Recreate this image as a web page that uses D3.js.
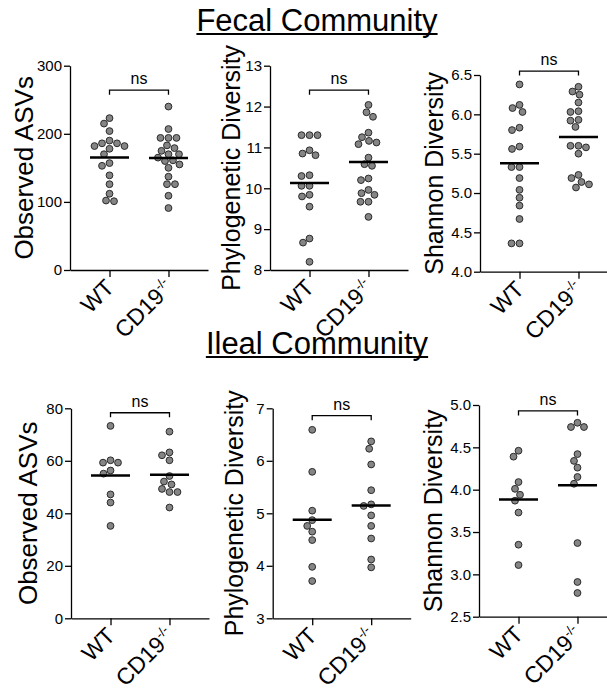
<!DOCTYPE html>
<html>
<head>
<meta charset="utf-8">
<script src="https://cdn.jsdelivr.net/npm/d3@7"></script>
<style>
  body { margin: 0; background: #fff; }
  svg { display: block; font-family: Arial, "Liberation Sans", sans-serif; }
  .axis path, .axis line { stroke: #000; stroke-width: 1.3px; }
  .axis text { font-size: 15px; fill: #000; }
</style>
</head>
<body>
<svg id="chart" width="607" height="692"></svg>
<script>
// groups on the x axis
var groups = ["WT", "CD19"];

// Fecal community
var fecalAsvWT = [223, 215, 204, 190, 186, 186, 182, 178, 182, 170, 157, 153, 139, 126, 112, 102, 101];
var fecalAsvKO = [240, 207, 194, 194, 194, 183, 179, 175, 170, 170, 165, 161, 160, 155, 150, 137, 126, 126, 109, 91];
var fecalPdWT = [11.30, 11.30, 11.30, 10.93, 10.85, 10.81, 10.32, 10.30, 10.06, 10.06, 9.80, 9.84, 9.55, 8.77, 8.67, 8.20];
var fecalPdKO = [12.04, 11.86, 11.75, 11.36, 11.25, 11.16, 11.08, 11.12, 10.75, 10.59, 10.55, 10.24, 10.20, 9.88, 9.84, 9.96, 9.67, 9.67, 9.30];
var fecalShWT = [6.38, 6.12, 6.08, 6.03, 5.80, 5.83, 5.56, 5.59, 5.33, 5.33, 5.19, 5.04, 4.94, 4.84, 4.67, 4.36, 4.36];
var fecalShKO = [6.35, 6.29, 6.25, 6.15, 6.04, 6.03, 5.93, 5.92, 5.84, 5.50, 5.60, 5.60, 5.58, 5.23, 5.14, 5.19, 5.11, 5.07];

// Ileal community
var ilealAsvWT = [73.3, 59.3, 60.2, 59.3, 56.3, 55.1, 47.2, 44.1, 35.2];
var ilealAsvKO = [71.1, 63.2, 62.1, 60.2, 54.2, 51.0, 52.1, 49.3, 48.1, 48.1, 42.2];
var ilealPdWT = [6.59, 5.79, 5.05, 4.87, 4.76, 4.65, 4.49, 3.98, 3.71];
var ilealPdKO = [6.37, 6.23, 5.93, 5.44, 5.14, 5.17, 4.96, 4.76, 4.52, 4.12, 3.97];
var ilealShWT = [4.46, 4.39, 4.09, 4.01, 3.94, 3.87, 3.73, 3.35, 3.11];
var ilealShKO = [4.74, 4.74, 4.79, 4.42, 4.34, 4.26, 4.15, 4.07, 3.37, 2.91, 2.78];

// axis ticks
var asvFecalTicks = [0, 100, 200, 300];
var pdFecalTicks = [8, 9, 10, 11, 12, 13];
var shFecalTicks = [4.0, 4.5, 5.0, 5.5, 6.0, 6.5];
var asvIlealTicks = [0, 20, 40, 60, 80];
var pdIlealTicks = [3, 4, 5, 6, 7];
var shIlealTicks = [2.5, 3.0, 3.5, 4.0, 4.5, 5.0];

var panels = [
  {label: "Observed ASVs", wt: fecalAsvWT, ko: fecalAsvKO, ticks: asvFecalTicks, fmt: "d", bracket: 264,
   ax: 70, top: 65.7, bottom: 270, lab: 37, fs: 26},
  {label: "Phylogenetic Diversity", wt: fecalPdWT, ko: fecalPdKO, ticks: pdFecalTicks, fmt: "d", bracket: 12.4,
   ax: 270, top: 65.7, bottom: 270, lab: 30, fs: 25},
  {label: "Shannon Diversity", wt: fecalShWT, ko: fecalShKO, ticks: shFecalTicks, fmt: ".1f", bracket: 6.55,
   ax: 480, top: 75, bottom: 271.7, lab: 37, fs: 25},
  {label: "Observed ASVs", wt: ilealAsvWT, ko: ilealAsvKO, ticks: asvIlealTicks, fmt: "d", bracket: 78.3,
   ax: 71, top: 408.3, bottom: 618.3, lab: 34, fs: 26},
  {label: "Phylogenetic Diversity", wt: ilealPdWT, ko: ilealPdKO, ticks: pdIlealTicks, fmt: "d", bracket: 6.86,
   ax: 272.7, top: 408.3, bottom: 618.3, lab: 30, fs: 25},
  {label: "Shannon Diversity", wt: ilealShWT, ko: ilealShKO, ticks: shIlealTicks, fmt: ".1f", bracket: 4.93,
   ax: 479, top: 405, bottom: 616.7, lab: 37, fs: 25}
];

var titles = [{text: "Fecal Community", y: 31}, {text: "Ileal Community", y: 354}];

var svg = d3.select("#chart");
var R = 3.4;

// titles with underline
titles.forEach(function(t) {
  var tx = svg.append("text")
    .attr("x", 317).attr("y", t.y)
    .attr("text-anchor", "middle")
    .attr("font-size", 31)
    .text(t.text);
  var w = tx.node().getComputedTextLength();
  svg.append("line")
    .attr("x1", 317 - w / 2).attr("x2", 317 + w / 2)
    .attr("y1", t.y + 3).attr("y2", t.y + 3)
    .attr("stroke", "#000").attr("stroke-width", 2);
});

// simple beeswarm: place each point at smallest offset that does not overlap
function swarm(vals, y, cx) {
  var pts = vals.map(function(v) { return {v: v, y: y(v)}; });
  pts.sort(function(a, b) { return a.y - b.y; });
  var placed = [];
  var minD = 2 * R + 0.8;
  pts.forEach(function(p) {
    p.x = cx;
    for (var k = 0; k < 400; k++) {
      var off = (k % 2 == 0 ? 1 : -1) * Math.ceil(k / 2) * 0.5;
      var ok = placed.every(function(q) {
        var dx = q.x - (cx + off), dy = q.y - p.y;
        return dx * dx + dy * dy >= minD * minD;
      });
      if (ok) { p.x = cx + off; break; }
    }
    placed.push(p);
  });
  return placed;
}

panels.forEach(function(p) {
  var g = svg.append("g");
  var y = d3.scaleLinear()
    .domain([p.ticks[0], p.ticks[p.ticks.length - 1]])
    .range([p.bottom, p.top]);
  var x = d3.scalePoint().domain(groups)
    .range([p.ax, p.ax + 138]).padding(0.67);

  g.append("g").attr("class", "axis")
    .attr("transform", "translate(" + p.ax + ",0)")
    .call(d3.axisLeft(y).tickValues(p.ticks).tickFormat(d3.format(p.fmt)).tickSize(6).tickSizeOuter(0))
    .call(function(s) { s.selectAll("text").attr("dx", 1); });

  g.append("g").attr("class", "axis")
    .attr("transform", "translate(0," + p.bottom + ")")
    .call(d3.axisBottom(x).tickSize(7).tickSizeOuter(0).tickFormat(""));

  // rotated group labels
  groups.forEach(function(grp) {
    var t = g.append("text")
      .attr("text-anchor", "end")
      .attr("font-size", 23)
      .attr("transform", "translate(" + (x(grp) + 6) + "," + (p.bottom + 19) + ") rotate(-45)");
    if (grp == "WT") {
      t.text("WT");
    } else {
      t.append("tspan").text("CD19");
      t.append("tspan").attr("font-size", 13).attr("dy", -9).text("-/-");
    }
  });

  // y label
  g.append("text")
    .attr("text-anchor", "middle")
    .attr("font-size", p.fs)
    .attr("transform", "translate(" + (p.ax - p.lab) + "," + ((p.top + p.bottom) / 2) + ") rotate(-90)")
    .text(p.label);

  // points
  [p.wt, p.ko].forEach(function(vals, i) {
    var cx = x(groups[i]);
    g.selectAll(null).data(swarm(vals, y, cx)).enter().append("circle")
      .attr("cx", function(d) { return d.x; })
      .attr("cy", function(d) { return d.y; })
      .attr("r", R)
      .attr("fill", "#858585")
      .attr("stroke", "#2b2b2b")
      .attr("stroke-width", 1);
    var m = d3.mean(vals);
    g.append("line")
      .attr("x1", cx - 19.5).attr("x2", cx + 19.5)
      .attr("y1", y(m)).attr("y2", y(m))
      .attr("stroke", "#000").attr("stroke-width", 2.5);
  });

  // significance bracket
  var by = y(p.bracket);
  var x0 = x(groups[0]), x1 = x(groups[1]);
  g.append("path")
    .attr("d", "M" + x0 + "," + (by + 4.5) + "V" + by + "H" + x1 + "V" + (by + 4.5))
    .attr("fill", "none").attr("stroke", "#000").attr("stroke-width", 1.3);
  g.append("text")
    .attr("x", (x0 + x1) / 2).attr("y", by - 6)
    .attr("text-anchor", "middle")
    .attr("font-size", 16)
    .text("ns");
});
</script>
</body>
</html>
